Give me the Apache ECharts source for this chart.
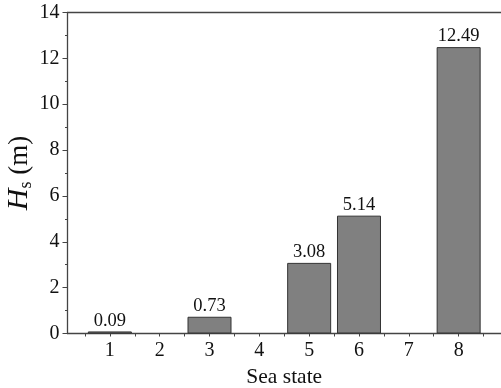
<!DOCTYPE html>
<html>
<head>
<meta charset="utf-8">
<script src="https://cdn.jsdelivr.net/npm/echarts@6/dist/echarts.min.js"></script>
<style>html,body{margin:0;padding:0;background:#fff}#c{width:501px;height:388px}</style>
</head>
<body>
<div id="c"></div>
<script>
const categories = [1, 2, 3, 4, 5, 6, 7, 8];
const hsValues = [0.09, null, 0.73, null, 3.08, 5.14, null, 12.49];
const yTicks = [0, 2, 4, 6, 8, 10, 12, 14];

const font = 'Liberation Serif';
const barData = categories.map((c, i) => [c, hsValues[i]]).filter(d => d[1] !== null);
const boundaries = categories.map(c => c - 0.5).concat([categories[categories.length - 1] + 0.5]);

const chart = echarts.init(document.getElementById('c'), null, {renderer: 'canvas'});
chart.setOption({
  animation: false,
  backgroundColor: '#fff',
  grid: {left: 67.5, right: 0, top: 12.5, bottom: 54.5, containLabel: false, outerBoundsMode: 'none'},
  xAxis: [{
    type: 'value', min: 0.15, max: 8.85,
    name: 'Sea state', nameLocation: 'middle', nameGap: 33, nameMoveOverlap: false,
    nameTextStyle: {fontFamily: font, fontSize: 21.5, color: '#111'},
    axisLine: {show: true, onZero: false, lineStyle: {color: '#444', width: 1.3}},
    axisTick: {show: true, inside: false, length: 3, customValues: boundaries.concat(categories), lineStyle: {color: '#444'}},
    axisLabel: {customValues: categories, margin: 7, fontFamily: font, fontSize: 20, color: '#111'},
    splitLine: {show: false}
  }, {
    type: 'value', min: 0.15, max: 8.85, position: 'top',
    axisLine: {show: true, onZero: false, lineStyle: {color: '#444', width: 1.3}},
    axisTick: {show: false}, axisLabel: {show: false}, splitLine: {show: false}
  }],
  yAxis: {
    type: 'value', min: 0, max: 14, interval: 2,
    name: '{i|H}{s|s}{n| (m)}', nameLocation: 'middle', nameGap: 32, nameMoveOverlap: false,
    nameTextStyle: {
      rich: {
        i: {fontFamily: font, fontSize: 30, fontStyle: 'italic', color: '#111'},
        s: {fontFamily: font, fontSize: 18, color: '#111', verticalAlign: 'bottom', padding: [14, 0, 0, 0]},
        n: {fontFamily: font, fontSize: 27, color: '#111'}
      }
    },
    axisLine: {show: true, onZero: false, lineStyle: {color: '#444', width: 1.3}},
    axisTick: {show: true, inside: false, length: 5, lineStyle: {color: '#444'}},
    minorTick: {show: true, splitNumber: 2, length: 2.5, lineStyle: {color: '#444'}},
    axisLabel: {margin: 8, fontFamily: font, fontSize: 20, color: '#111'},
    splitLine: {show: false}
  },
  series: [{
    type: 'bar',
    data: barData,
    barWidth: 44,
    itemStyle: {color: '#808080', borderColor: '#333', borderWidth: 1},
    label: {show: true, position: 'top', distance: 1, fontFamily: font, fontSize: 18.5, color: '#111',
      formatter: p => p.value[1].toFixed(2)}
  }]
});
</script>
</body>
</html>
